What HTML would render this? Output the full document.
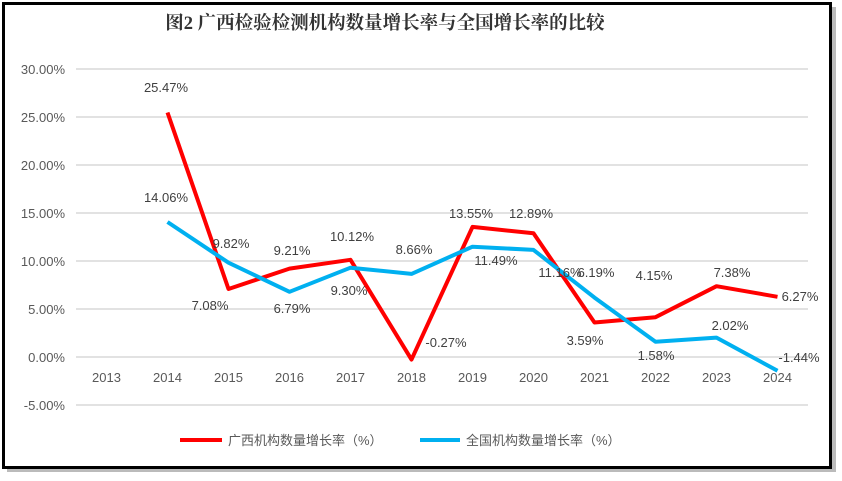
<!DOCTYPE html>
<html><head><meta charset="utf-8"><style>
body{margin:0;background:#fff;width:842px;height:481px;overflow:hidden}
svg{display:block}
</style></head><body>
<svg width="842" height="481" xmlns="http://www.w3.org/2000/svg" font-family="'Liberation Sans','Noto Sans CJK SC',sans-serif">
<rect x="7" y="7" width="829" height="465" fill="#bbb"/>
<rect x="3.5" y="3.5" width="827" height="464" fill="#fff" stroke="#000" stroke-width="3"/>
<text x="385" y="29" text-anchor="middle" font-family="'Liberation Serif','Noto Serif CJK SC',serif" font-weight="bold" font-size="18.5" fill="#333">图2 广西检验检测机构数量增长率与全国增长率的比较</text>
<g stroke="#d9d9d9" stroke-width="1.5">
<line x1="76" x2="808" y1="69" y2="69"/><line x1="76" x2="808" y1="117" y2="117"/><line x1="76" x2="808" y1="165" y2="165"/><line x1="76" x2="808" y1="213" y2="213"/><line x1="76" x2="808" y1="261" y2="261"/><line x1="76" x2="808" y1="309" y2="309"/><line x1="76" x2="808" y1="357" y2="357"/><line x1="76" x2="808" y1="405" y2="405"/>
</g>
<g font-size="13" fill="#595959" text-anchor="end">
<text x="65" y="74">30.00%</text><text x="65" y="122">25.00%</text><text x="65" y="170">20.00%</text><text x="65" y="218">15.00%</text><text x="65" y="266">10.00%</text><text x="65" y="314">5.00%</text><text x="65" y="362">0.00%</text><text x="65" y="410">-5.00%</text>
</g>
<g font-size="13" fill="#595959" text-anchor="middle">
<text x="106.5" y="382">2013</text><text x="167.5" y="382">2014</text><text x="228.5" y="382">2015</text><text x="289.5" y="382">2016</text><text x="350.5" y="382">2017</text><text x="411.5" y="382">2018</text><text x="472.5" y="382">2019</text><text x="533.5" y="382">2020</text><text x="594.5" y="382">2021</text><text x="655.5" y="382">2022</text><text x="716.5" y="382">2023</text><text x="777.5" y="382">2024</text>
</g>
<polyline fill="none" stroke="#ff0000" stroke-width="4" stroke-linejoin="round" points="167.5,112.5 228.5,289 289.5,268.6 350.5,259.8 411.5,359.6 472.5,226.9 533.5,233.3 594.5,322.5 655.5,317.2 716.5,286.2 777.5,296.8"/>
<polyline fill="none" stroke="#00b0f0" stroke-width="4" stroke-linejoin="round" points="167.5,222 228.5,262.7 289.5,291.8 350.5,267.7 411.5,273.9 472.5,246.7 533.5,249.9 594.5,297.6 655.5,341.8 716.5,337.6 777.5,370.8"/>
<g font-size="13" fill="#404040" text-anchor="middle">
<text x="166" y="92">25.47%</text><text x="166" y="202">14.06%</text><text x="231" y="248">9.82%</text><text x="210" y="310">7.08%</text>
<text x="292" y="255">9.21%</text><text x="292" y="313">6.79%</text><text x="352" y="241">10.12%</text><text x="349" y="295">9.30%</text>
<text x="414" y="254">8.66%</text><text x="446" y="347">-0.27%</text><text x="471" y="218">13.55%</text><text x="496" y="265">11.49%</text>
<text x="531" y="218">12.89%</text><text x="560" y="277">11.16%</text><text x="596" y="277">6.19%</text><text x="585" y="345">3.59%</text>
<text x="654" y="280">4.15%</text><text x="656" y="360">1.58%</text><text x="732" y="277">7.38%</text><text x="730" y="330">2.02%</text>
<text x="800" y="301">6.27%</text><text x="799" y="362">-1.44%</text>
</g>
<line x1="180" x2="222" y1="440" y2="440" stroke="#ff0000" stroke-width="4"/>
<text x="228" y="445" font-size="13" fill="#595959">广西机构数量增长率（%）</text>
<line x1="420" x2="460" y1="440" y2="440" stroke="#00b0f0" stroke-width="4"/>
<text x="466" y="445" font-size="13" fill="#595959">全国机构数量增长率（%）</text>
</svg>
</body></html>
